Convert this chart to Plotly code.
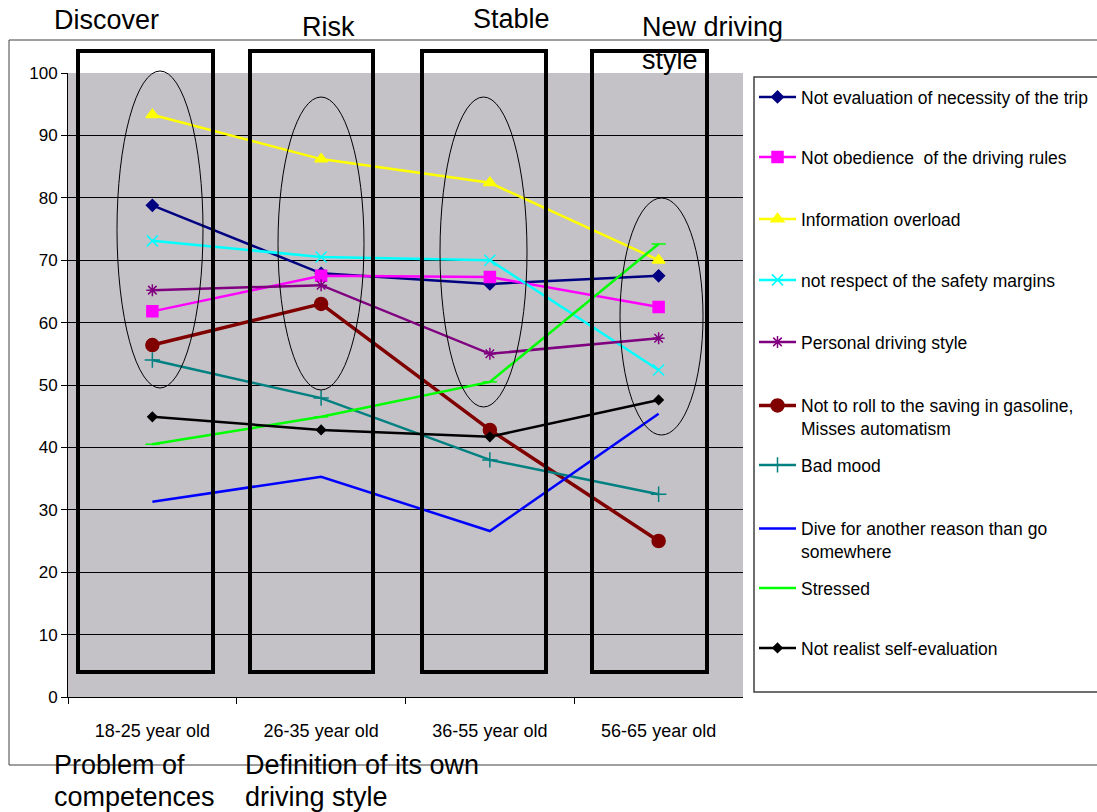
import plotly.graph_objects as go

W, H = 1097, 812

# Age groups on the category axis
age_groups = ["18-25 year old", "26-35 year old", "36-55 year old", "56-65 year old"]

# Scores per behaviour (0-100)
not_evaluation_trip = [78.8, 67.9, 66.2, 67.5]
not_obedience_rules = [61.8, 67.5, 67.3, 62.5]
information_overload = [93.3, 86.2, 82.4, 70.0]
not_respect_margins = [73.1, 70.5, 70.0, 52.4]
personal_style = [65.2, 66.0, 55.0, 57.5]
not_saving_gasoline = [56.4, 63.0, 42.8, 25.0]
bad_mood = [54.0, 47.9, 38.0, 32.5]
dive_other_reason = [31.3, 35.3, 26.6, 45.4]
stressed = [40.5, 44.9, 50.5, 72.6]
not_realist_self_eval = [44.9, 42.8, 41.7, 47.6]

series_names = [
    "Not evaluation of necessity of the trip",
    "Not obedience  of the driving rules",
    "Information overload",
    "not respect of the safety margins",
    "Personal driving style",
    "Not to roll to the saving in gasoline,<br>Misses automatism",
    "Bad mood",
    "Dive for another reason than go<br>somewhere",
    "Stressed",
    "Not realist self-evaluation",
]

ARIAL = "Liberation Sans, Arial, sans-serif"


def px_x(x):
    return x / W


def px_y(y):
    return 1 - y / H


# values, colour, marker symbol, marker size, line width
styles = [
    (not_evaluation_trip, "#000080", "diamond", 9, 2.5),
    (not_obedience_rules, "#FF00FF", "square", 11, 2.5),
    (information_overload, "#FFFF00", "triangle-up", 11, 2.5),
    (not_respect_margins, "#00FFFF", "x-thin-open", 11, 2.5),
    (personal_style, "#800080", "asterisk-open", 10, 2.5),
    (not_saving_gasoline, "#800000", "circle", 13, 3.5),
    (bad_mood, "#008080", "cross-thin-open", 11, 2.5),
    (dive_other_reason, "#0000FF", None, 0, 2.5),
    (stressed, "#00FF00", "line-ew-open", 10, 2.5),
    (not_realist_self_eval, "#000000", "diamond", 7, 2.5),
]

# vertical centre (px) of each legend entry
legend_centres = [97, 157, 219, 280, 342, 417, 465, 540, 588, 648]

fig = go.Figure()
layout_legends = {}
for i, (name, (vals, col, sym, size, lw)) in enumerate(zip(series_names, styles)):
    key = "legend" if i == 0 else f"legend{i + 1}"
    marker = dict(color=col, size=size, symbol=sym or "circle",
                  line=dict(color=col, width=1.5))
    fig.add_trace(go.Scatter(
        x=age_groups, y=vals, name=name,
        mode="lines+markers" if sym else "lines",
        line=dict(color=col, width=lw),
        marker=marker,
        legend=key,
        cliponaxis=False,
    ))
    layout_legends[key] = dict(
        x=px_x(754), y=px_y(legend_centres[i]),
        xanchor="left", yanchor="middle",
        bgcolor="rgba(0,0,0,0)", borderwidth=0,
        font=dict(family=ARIAL, size=17.5, color="#000"),
        itemwidth=37, valign="top",
    )

shapes = []
# outer chart frame
shapes.append(dict(type="rect", xref="paper", yref="paper",
                   x0=px_x(9), x1=px_x(1110), y0=px_y(765), y1=px_y(40),
                   line=dict(color="#404040", width=1), layer="below"))
# legend frame
shapes.append(dict(type="rect", xref="paper", yref="paper",
                   x0=px_x(754), x1=px_x(1110), y0=px_y(692), y1=px_y(77),
                   line=dict(color="#404040", width=1.5), layer="below"))
# life-stage frames
for x0, x1 in [(78, 213), (250, 373), (422, 546), (592, 707)]:
    shapes.append(dict(type="rect", xref="paper", yref="paper",
                       x0=px_x(x0), x1=px_x(x1), y0=px_y(672), y1=px_y(51),
                       line=dict(color="#000", width=4), layer="above"))
# highlight ellipses
for x0, x1, y0, y1 in [(117, 203, 71, 388), (278, 364, 97, 390),
                       (440, 527, 97, 407), (620, 703, 198, 435)]:
    shapes.append(dict(type="circle", xref="paper", yref="paper",
                       x0=px_x(x0), x1=px_x(x1), y0=px_y(y1), y1=px_y(y0),
                       line=dict(color="#000", width=1), layer="above"))

annotations = []
for text, x, y in [("Discover", 52, 20), ("Risk", 300, 27), ("Stable", 471, 19),
                   ("New driving", 640, 27), ("style", 640, 60),
                   ("Problem of", 52, 765), ("competences", 52, 797),
                   ("Definition of its own", 243, 765), ("driving style", 243, 797)]:
    annotations.append(dict(text=text, x=px_x(x), y=px_y(y), xref="paper", yref="paper",
                            xanchor="left", yanchor="middle", showarrow=False,
                            font=dict(family=ARIAL, size=27, color="#000")))

fig.update_layout(
    width=W, height=H,
    margin=dict(l=0, r=0, t=0, b=0, autoexpand=False),
    paper_bgcolor="#FFFFFF",
    plot_bgcolor="#C4C2C7",
    shapes=shapes,
    annotations=annotations,
    showlegend=True,
    **layout_legends,
)

fig.update_xaxes(
    domain=[px_x(68), px_x(743)],
    type="category", range=[-0.5, 3.5],
    tickson="boundaries", ticks="outside", ticklen=6, tickcolor="#000",
    showline=True, linecolor="#000", linewidth=1,
    showgrid=False, ticklabelstandoff=17,
    tickfont=dict(family=ARIAL, size=18, color="#000"),
)
fig.update_yaxes(
    domain=[px_y(697), px_y(73)],
    range=[0, 100], dtick=10, tick0=0,
    ticks="outside", ticklen=6, tickcolor="#000",
    showline=True, linecolor="#000", linewidth=1,
    showgrid=True, gridcolor="#000", gridwidth=1,
    zeroline=False,
    tickfont=dict(family=ARIAL, size=17, color="#000"),
)

fig.write_html("out.html")
